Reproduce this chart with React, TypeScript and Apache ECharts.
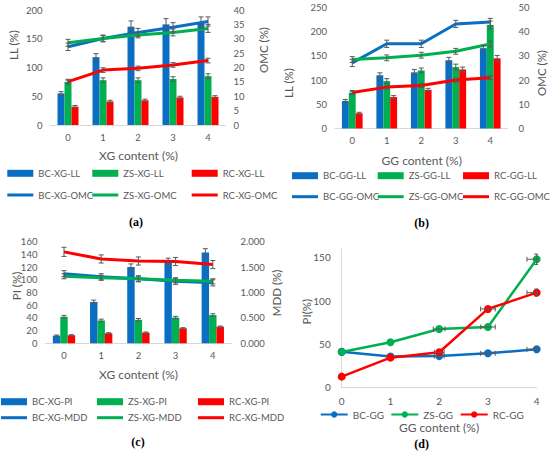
import React, { useEffect, useRef } from "react";
import * as echarts from "echarts";

const CATS = ["0", "1", "2", "3", "4"];

// Panel (a): XG, liquid limit (bars) and OMC (lines)
const bcXgLL = [55, 118, 171, 175, 178];
const zsXgLL = [75, 78, 78, 80, 85];
const rcXgLL = [32, 41, 43, 48, 49];
const bcXgLLErr = [3, 6, 10, 10, 10];
const zsXgLLErr = [3, 4, 4, 4, 4];
const rcXgLLErr = [2, 2, 2, 2, 2];
const bcXgOMC = [27.2, 30.1, 32.2, 34, 36];
const zsXgOMC = [28.6, 30.1, 31.3, 32.2, 33.6];
const rcXgOMC = [15.1, 19.1, 19.7, 20.9, 22.4];
const bcXgOMCErr = [1.3, 1.2, 1.4, 1.6, 1.6];
const zsXgOMCErr = [1.2, 1.0, 1.0, 1.2, 1.4];
const rcXgOMCErr = [0.8, 0.8, 0.8, 0.8, 0.8];

// Panel (b): GG, liquid limit (bars) and OMC (lines)
const bcGgLL = [57, 110, 116, 141, 166];
const zsGgLL = [74, 98, 120, 127, 214];
const rcGgLL = [31.5, 65, 80, 122, 145];
const bcGgLLErr = [3, 5, 6, 6, 6];
const zsGgLLErr = [3, 5, 5, 6, 8];
const rcGgLLErr = [2, 3, 3, 5, 6];
const bcGgOMC = [27.1, 35, 35, 43.2, 44];
const zsGgOMC = [28.5, 29.2, 30.3, 31.9, 34.9];
const rcGgOMC = [14.9, 17.1, 17.8, 20, 21];
const bcGgOMCErr = [1.5, 1.5, 1.5, 1.5, 1.5];
const zsGgOMCErr = [1.2, 1.2, 1.2, 1.2, 1.2];
const rcGgOMCErr = [0.8, 0.8, 0.8, 0.8, 0.8];

// Panel (c): XG, plasticity index (bars) and MDD (lines)
const bcXgPI = [12, 65, 120, 129, 143];
const zsXgPI = [42, 36, 37, 40.5, 44.5];
const rcXgPI = [12.6, 15.7, 16.8, 23.6, 26.2];
const bcXgPIErr = [1, 3, 5, 5, 6];
const zsXgPIErr = [2, 2, 2, 2, 2];
const rcXgPIErr = [1, 1, 1, 1, 1];
const bcXgMDD = [1.37, 1.31, 1.27, 1.22, 1.19];
const zsXgMDD = [1.32, 1.29, 1.27, 1.24, 1.22];
const rcXgMDD = [1.8, 1.66, 1.62, 1.61, 1.55];
const bcXgMDDErr = [0.06, 0.06, 0.06, 0.06, 0.06];
const zsXgMDDErr = [0.05, 0.05, 0.05, 0.05, 0.05];
const rcXgMDDErr = [0.09, 0.08, 0.08, 0.08, 0.08];

// Panel (d): GG, plasticity index
const GG_X = [0, 1, 2, 3, 4];
const bcGG = [41, 35.5, 36, 39.2, 43.8];
const zsGG = [40.8, 52, 67.3, 69.6, 147.7];
const rcGG = [12.3, 34.2, 40.4, 90.4, 109.2];
const bcGGxErr = [0, 0, 0.1, 0.15, 0.2];
const zsGGxErr = [0, 0, 0.12, 0.15, 0.2];
const rcGGxErr = [0, 0, 0.1, 0.15, 0.2];
const bcGGyErr = [0, 0, 0, 0, 1.5];
const zsGGyErr = [0, 0, 0, 0, 6];
const rcGGyErr = [0, 0, 0, 0, 4];

const BLUE = "#0A6FC2";
const GREEN = "#00B050";
const RED = "#FF0000";
const GRAY = "#595959";
const AXIS = "#D9D9D9";
const FONT = "Lato";
const TICK = 9.5;

const errStyle = { stroke: GRAY, lineWidth: 1 };

function vErr(slot: number) {
  return (params: any, api: any) => {
    const i = api.value(0);
    const v = api.value(1);
    const e = api.value(2);
    const band = api.size([1, 0])[0];
    const dx = slot * band * 0.2;
    const t = api.coord([i, v + e]);
    const b = api.coord([i, v - e]);
    const x = t[0] + dx;
    const c = 2.5;
    return {
      type: "group",
      children: [
        { type: "line", shape: { x1: x, y1: t[1], x2: x, y2: b[1] }, style: errStyle },
        { type: "line", shape: { x1: x - c, y1: t[1], x2: x + c, y2: t[1] }, style: errStyle },
        { type: "line", shape: { x1: x - c, y1: b[1], x2: x + c, y2: b[1] }, style: errStyle },
      ],
    };
  };
}

function xyErr(params: any, api: any) {
  const x = api.value(0);
  const y = api.value(1);
  const xe = api.value(2);
  const ye = api.value(3);
  const c = 2.5;
  const children: any[] = [];
  if (xe > 0) {
    const l = api.coord([x - xe, y]);
    const r = api.coord([x + xe, y]);
    children.push(
      { type: "line", shape: { x1: l[0], y1: l[1], x2: r[0], y2: r[1] }, style: errStyle },
      { type: "line", shape: { x1: l[0], y1: l[1] - c, x2: l[0], y2: l[1] + c }, style: errStyle },
      { type: "line", shape: { x1: r[0], y1: r[1] - c, x2: r[0], y2: r[1] + c }, style: errStyle }
    );
  }
  if (ye > 0) {
    const t = api.coord([x, y + ye]);
    const b = api.coord([x, y - ye]);
    children.push(
      { type: "line", shape: { x1: t[0], y1: t[1], x2: b[0], y2: b[1] }, style: errStyle },
      { type: "line", shape: { x1: t[0] - c, y1: t[1], x2: t[0] + c, y2: t[1] }, style: errStyle },
      { type: "line", shape: { x1: b[0] - c, y1: b[1], x2: b[0] + c, y2: b[1] }, style: errStyle }
    );
  }
  return { type: "group", children };
}

const errData = (vals: number[], errs: number[]) => vals.map((v, i) => [i, v, errs[i]]);

function barSeries(name: string, data: number[], color: string, xi: number, yi: number) {
  return {
    name,
    type: "bar",
    xAxisIndex: xi,
    yAxisIndex: yi,
    data,
    barGap: "0%",
    barCategoryGap: "40%",
    itemStyle: { color },
    z: 2,
  };
}

function lineSeries(name: string, data: number[], color: string, xi: number, yi: number) {
  return {
    name,
    type: "line",
    xAxisIndex: xi,
    yAxisIndex: yi,
    data,
    symbol: "none",
    lineStyle: { color, width: 3 },
    itemStyle: { color },
    z: 4,
  };
}

function errSeries(vals: number[], errs: number[], slot: number, xi: number, yi: number) {
  return {
    type: "custom",
    xAxisIndex: xi,
    yAxisIndex: yi,
    data: errData(vals, errs),
    encode: { x: 0, y: 1 },
    renderItem: vErr(slot),
    silent: true,
    z: 5,
  };
}

function dLine(name: string, ys: number[], color: string) {
  return {
    name,
    type: "line",
    xAxisIndex: 3,
    yAxisIndex: 6,
    data: ys.map((y, i) => [GG_X[i], y]),
    symbol: "circle",
    symbolSize: 8,
    lineStyle: { color, width: 2.5 },
    itemStyle: { color },
    z: 4,
  };
}

function dErr(ys: number[], xe: number[], ye: number[]) {
  return {
    type: "custom",
    xAxisIndex: 3,
    yAxisIndex: 6,
    data: ys.map((y, i) => [GG_X[i], y, xe[i], ye[i]]),
    encode: { x: 0, y: 1 },
    renderItem: xyErr,
    clip: true,
    silent: true,
    z: 5,
  };
}

const catAxis = (gi: number) => ({
  type: "category",
  gridIndex: gi,
  data: CATS,
  boundaryGap: true,
  axisLine: { lineStyle: { color: AXIS, width: 1 } },
  axisTick: { show: false },
  axisLabel: { color: GRAY, fontSize: TICK, fontFamily: FONT, margin: 7 },
  splitLine: { show: false },
});

const valAxis = (
  gi: number,
  pos: string,
  max: number,
  interval: number,
  margin: number,
  fmt?: (v: number) => string
) => ({
  type: "value",
  gridIndex: gi,
  position: pos,
  min: 0,
  max,
  interval,
  axisLine: { show: false },
  axisTick: { show: false },
  splitLine: { show: false },
  axisLabel: { color: GRAY, fontSize: TICK, fontFamily: FONT, margin, formatter: fmt },
});

function leg(name: string, left: number, rowY: number, iconH: number) {
  return {
    data: [name],
    left,
    top: rowY - 6,
    padding: 0,
    icon: "rect",
    itemWidth: 26,
    itemHeight: iconH,
    selectedMode: false,
    textStyle: { color: GRAY, fontSize: 9.5, fontFamily: FONT, lineHeight: 12 },
  };
}

function legD(name: string, left: number, rowY: number) {
  return {
    data: [name],
    left,
    top: rowY - 5.5,
    padding: 0,
    itemWidth: 27,
    itemHeight: 8,
    selectedMode: false,
    textStyle: { color: GRAY, fontSize: 10, fontFamily: FONT, lineHeight: 11 },
  };
}

function txt(text: string, x: number, y: number, size: number, rotate = false, bold = false, serif = false) {
  return {
    type: "text",
    x,
    y,
    rotation: rotate ? Math.PI / 2 : 0,
    silent: true,
    style: {
      text,
      x: 0,
      y: 0,
      textAlign: "center",
      textVerticalAlign: "middle",
      align: "center",
      verticalAlign: "middle",
      fill: serif ? "#000" : GRAY,
      fontSize: size,
      fontWeight: bold ? "bold" : "normal",
      fontFamily: serif ? "Liberation Serif" : FONT,
    },
  };
}

export default function App() {
  const ref = useRef<HTMLDivElement>(null);
  useEffect(() => {
    if (!ref.current) return;
    const chart = echarts.init(ref.current, undefined, { renderer: "svg" });
    const option: any = {
      animation: false,
      backgroundColor: "#fff",
      grid: [
        { left: 50.5, top: 10, width: 175, height: 115 },
        { left: 335, top: 7.5, width: 172.5, height: 121 },
        { left: 45.4, top: 241.7, width: 186, height: 101.6 },
        { left: 341.7, top: 248.6, width: 195, height: 138.7 },
      ],
      xAxis: [
        catAxis(0),
        catAxis(1),
        catAxis(2),
        {
          type: "value",
          gridIndex: 3,
          min: 0,
          max: 4,
          interval: 1,
          axisLine: { show: true, lineStyle: { color: AXIS, width: 1 } },
          axisTick: { show: false },
          splitLine: { show: false },
          axisLabel: { color: GRAY, fontSize: 10, fontFamily: FONT, margin: 9 },
        },
      ],
      yAxis: [
        valAxis(0, "left", 200, 50, 8),
        valAxis(0, "right", 40, 5, 8),
        valAxis(1, "left", 250, 50, 8),
        valAxis(1, "right", 50, 10, 11),
        valAxis(2, "left", 160, 20, 8),
        valAxis(2, "right", 2, 0.5, 9, (v: number) => v.toFixed(3)),
        {
          type: "value",
          gridIndex: 3,
          min: 0,
          max: 160,
          interval: 50,
          axisLine: { show: true, lineStyle: { color: AXIS, width: 1 } },
          axisTick: { show: false },
          splitLine: { show: false },
          axisLabel: { color: GRAY, fontSize: 10, fontFamily: FONT, margin: 11, showMaxLabel: false },
        },
      ],
      legend: [
        leg("BC-XG-LL", 7.3, 173.3, 7),
        leg("ZS-XG-LL", 92.3, 173.3, 7),
        leg("RC-XG-LL", 191.7, 173.3, 7),
        leg("BC-XG-OMC", 7.3, 195, 3),
        leg("ZS-XG-OMC", 92.3, 195, 3),
        leg("RC-XG-OMC", 191.7, 195, 3),
        leg("BC-GG-LL", 292, 175.7, 7),
        leg("ZS-GG-LL", 377.7, 175.7, 7),
        leg("RC-GG-LL", 463, 175.7, 7),
        leg("BC-GG-OMC", 292, 196.7, 3),
        leg("ZS-GG-OMC", 377.7, 196.7, 3),
        leg("RC-GG-OMC", 463, 196.7, 3),
        leg("BC-XG-PI", 1, 401.7, 7),
        leg("ZS-XG-PI", 97, 401.7, 7),
        leg("RC-XG-PI", 198, 401.7, 7),
        leg("BC-XG-MDD", 1, 417.7, 3),
        leg("ZS-XG-MDD", 97, 417.7, 3),
        leg("RC-XG-MDD", 198, 417.7, 3),
        legD("BC-GG", 319.7, 414.5),
        legD("ZS-GG", 390.3, 414.5),
        legD("RC-GG", 459.7, 414.5),
      ],
      graphic: [
        txt("LL (%)", 13, 45, 11.5, true),
        txt("OMC (%)", 263, 50, 11.5, true),
        txt("XG content (%)", 138.5, 155, 12),
        txt("(a)", 136, 222, 12, false, true, true),
        txt("LL (%)", 288, 83, 11.5, true),
        txt("OMC (%)", 541.5, 73, 11.5, true),
        txt("GG content (%)", 421.7, 160, 12),
        txt("(b)", 421.7, 223, 12, false, true, true),
        txt("PI (%)", 16, 286, 11.5, true),
        txt("MDD (%)", 276, 293, 11.5, true),
        txt("XG content (%)", 138.5, 374, 12),
        txt("(c)", 138, 442, 12, false, true, true),
        txt("PI(%)", 306.7, 311.7, 11.5, true),
        txt("GG content (%)", 439, 427, 12),
        txt("(d)", 421.7, 444, 12, false, true, true),
      ],
      series: [
        barSeries("BC-XG-LL", bcXgLL, BLUE, 0, 0),
        barSeries("ZS-XG-LL", zsXgLL, GREEN, 0, 0),
        barSeries("RC-XG-LL", rcXgLL, RED, 0, 0),
        errSeries(bcXgLL, bcXgLLErr, -1, 0, 0),
        errSeries(zsXgLL, zsXgLLErr, 0, 0, 0),
        errSeries(rcXgLL, rcXgLLErr, 1, 0, 0),
        lineSeries("BC-XG-OMC", bcXgOMC, BLUE, 0, 1),
        lineSeries("ZS-XG-OMC", zsXgOMC, GREEN, 0, 1),
        lineSeries("RC-XG-OMC", rcXgOMC, RED, 0, 1),
        errSeries(bcXgOMC, bcXgOMCErr, 0, 0, 1),
        errSeries(zsXgOMC, zsXgOMCErr, 0, 0, 1),
        errSeries(rcXgOMC, rcXgOMCErr, 0, 0, 1),

        barSeries("BC-GG-LL", bcGgLL, BLUE, 1, 2),
        barSeries("ZS-GG-LL", zsGgLL, GREEN, 1, 2),
        barSeries("RC-GG-LL", rcGgLL, RED, 1, 2),
        errSeries(bcGgLL, bcGgLLErr, -1, 1, 2),
        errSeries(zsGgLL, zsGgLLErr, 0, 1, 2),
        errSeries(rcGgLL, rcGgLLErr, 1, 1, 2),
        lineSeries("BC-GG-OMC", bcGgOMC, BLUE, 1, 3),
        lineSeries("ZS-GG-OMC", zsGgOMC, GREEN, 1, 3),
        lineSeries("RC-GG-OMC", rcGgOMC, RED, 1, 3),
        errSeries(bcGgOMC, bcGgOMCErr, 0, 1, 3),
        errSeries(zsGgOMC, zsGgOMCErr, 0, 1, 3),
        errSeries(rcGgOMC, rcGgOMCErr, 0, 1, 3),

        barSeries("BC-XG-PI", bcXgPI, BLUE, 2, 4),
        barSeries("ZS-XG-PI", zsXgPI, GREEN, 2, 4),
        barSeries("RC-XG-PI", rcXgPI, RED, 2, 4),
        errSeries(bcXgPI, bcXgPIErr, -1, 2, 4),
        errSeries(zsXgPI, zsXgPIErr, 0, 2, 4),
        errSeries(rcXgPI, rcXgPIErr, 1, 2, 4),
        lineSeries("BC-XG-MDD", bcXgMDD, BLUE, 2, 5),
        lineSeries("ZS-XG-MDD", zsXgMDD, GREEN, 2, 5),
        lineSeries("RC-XG-MDD", rcXgMDD, RED, 2, 5),
        errSeries(bcXgMDD, bcXgMDDErr, 0, 2, 5),
        errSeries(zsXgMDD, zsXgMDDErr, 0, 2, 5),
        errSeries(rcXgMDD, rcXgMDDErr, 0, 2, 5),

        dLine("BC-GG", bcGG, BLUE),
        dLine("ZS-GG", zsGG, GREEN),
        dLine("RC-GG", rcGG, RED),
        dErr(bcGG, bcGGxErr, bcGGyErr),
        dErr(zsGG, zsGGxErr, zsGGyErr),
        dErr(rcGG, rcGGxErr, rcGGyErr),
      ],
    };
    chart.setOption(option);
    return () => chart.dispose();
  }, []);
  return (
    <div
      ref={ref}
      style={{ position: "fixed", left: 0, top: 0, width: 550, height: 452, background: "#fff" }}
    />
  );
}
